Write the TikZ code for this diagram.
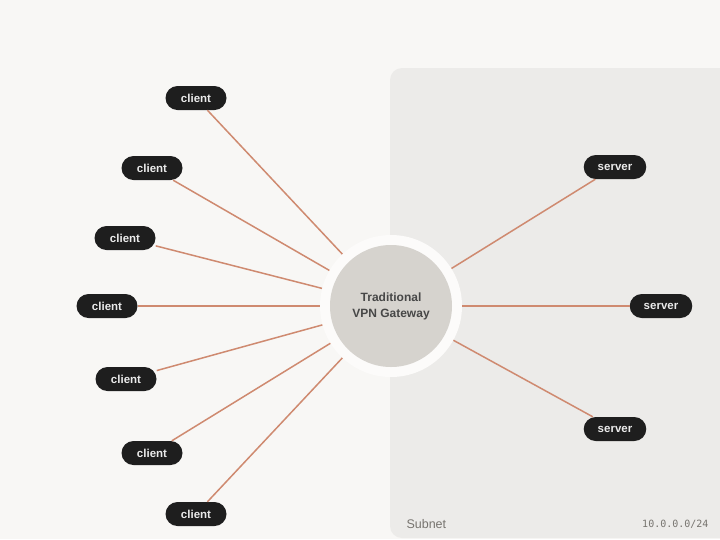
\documentclass[tikz,border=0pt]{standalone}
\usepackage{fontspec}
\setmainfont{Liberation Sans}
\newfontfamily\codefont{DejaVu Sans Mono}
\begin{document}
\begin{tikzpicture}[x=1pt,y=-1pt,
  pill/.style={draw=none,fill=pillbg,text=white!92!black,rounded corners=12pt,
    minimum height=24pt,minimum width=61pt,inner ysep=0pt,inner xsep=14pt,
    font=\bfseries\fontsize{11.5}{13}\selectfont},
  link/.style={draw=linkc,line width=1.5pt},
  hub/.style={circle,fill=halo,minimum size=142pt,inner sep=0pt}]
\definecolor{pagebg}{HTML}{F8F7F5}
\definecolor{panelbg}{HTML}{ECEBE9}
\definecolor{halo}{HTML}{FCFBFA}
\definecolor{pillbg}{HTML}{1E1E1E}
\definecolor{linkc}{HTML}{CF8A70}
\definecolor{hubfill}{HTML}{D6D3CE}
\definecolor{labelc}{HTML}{77746F}
% canvas
\fill[pagebg] (0,0) rectangle (720,539);
\useasboundingbox (0,0) rectangle (720,539);
% subnet panel
\fill[panelbg,rounded corners=12pt] (390,68) rectangle (735,538);
\node[anchor=west,text=labelc,font=\fontsize{12.5}{14}\selectfont] (subnet) at (403,524) {Subnet};
\node[anchor=east,text=labelc,font=\codefont\fontsize{10}{12}\selectfont] (cidr) at (712,524) {10.0.0.0/24};
% gateway with halo
\node[hub] (gw) at (391,306) {};
\node[circle,fill=hubfill,minimum size=122pt,inner sep=0pt,align=center,
  text=black!72,font=\bfseries\fontsize{12}{16}\selectfont] (gwin) at (391,306) {Traditional\\VPN Gateway};
% clients
\node[pill] (c1) at (196,98) {client};
\node[pill] (c2) at (152,168) {client};
\node[pill] (c3) at (125,238) {client};
\node[pill] (c4) at (107,306) {client};
\node[pill] (c5) at (126,379) {client};
\node[pill] (c6) at (152,453) {client};
\node[pill] (c7) at (196,514) {client};
% servers
\node[pill] (s1) at (615,167) {server};
\node[pill] (s2) at (661,306) {server};
\node[pill] (s3) at (615,429) {server};
% links
\foreach \n in {c1,c2,c3,c4,c5,c6,c7,s1,s2,s3}
  \draw[link] (\n) -- (gw);
\end{tikzpicture}
\end{document}
